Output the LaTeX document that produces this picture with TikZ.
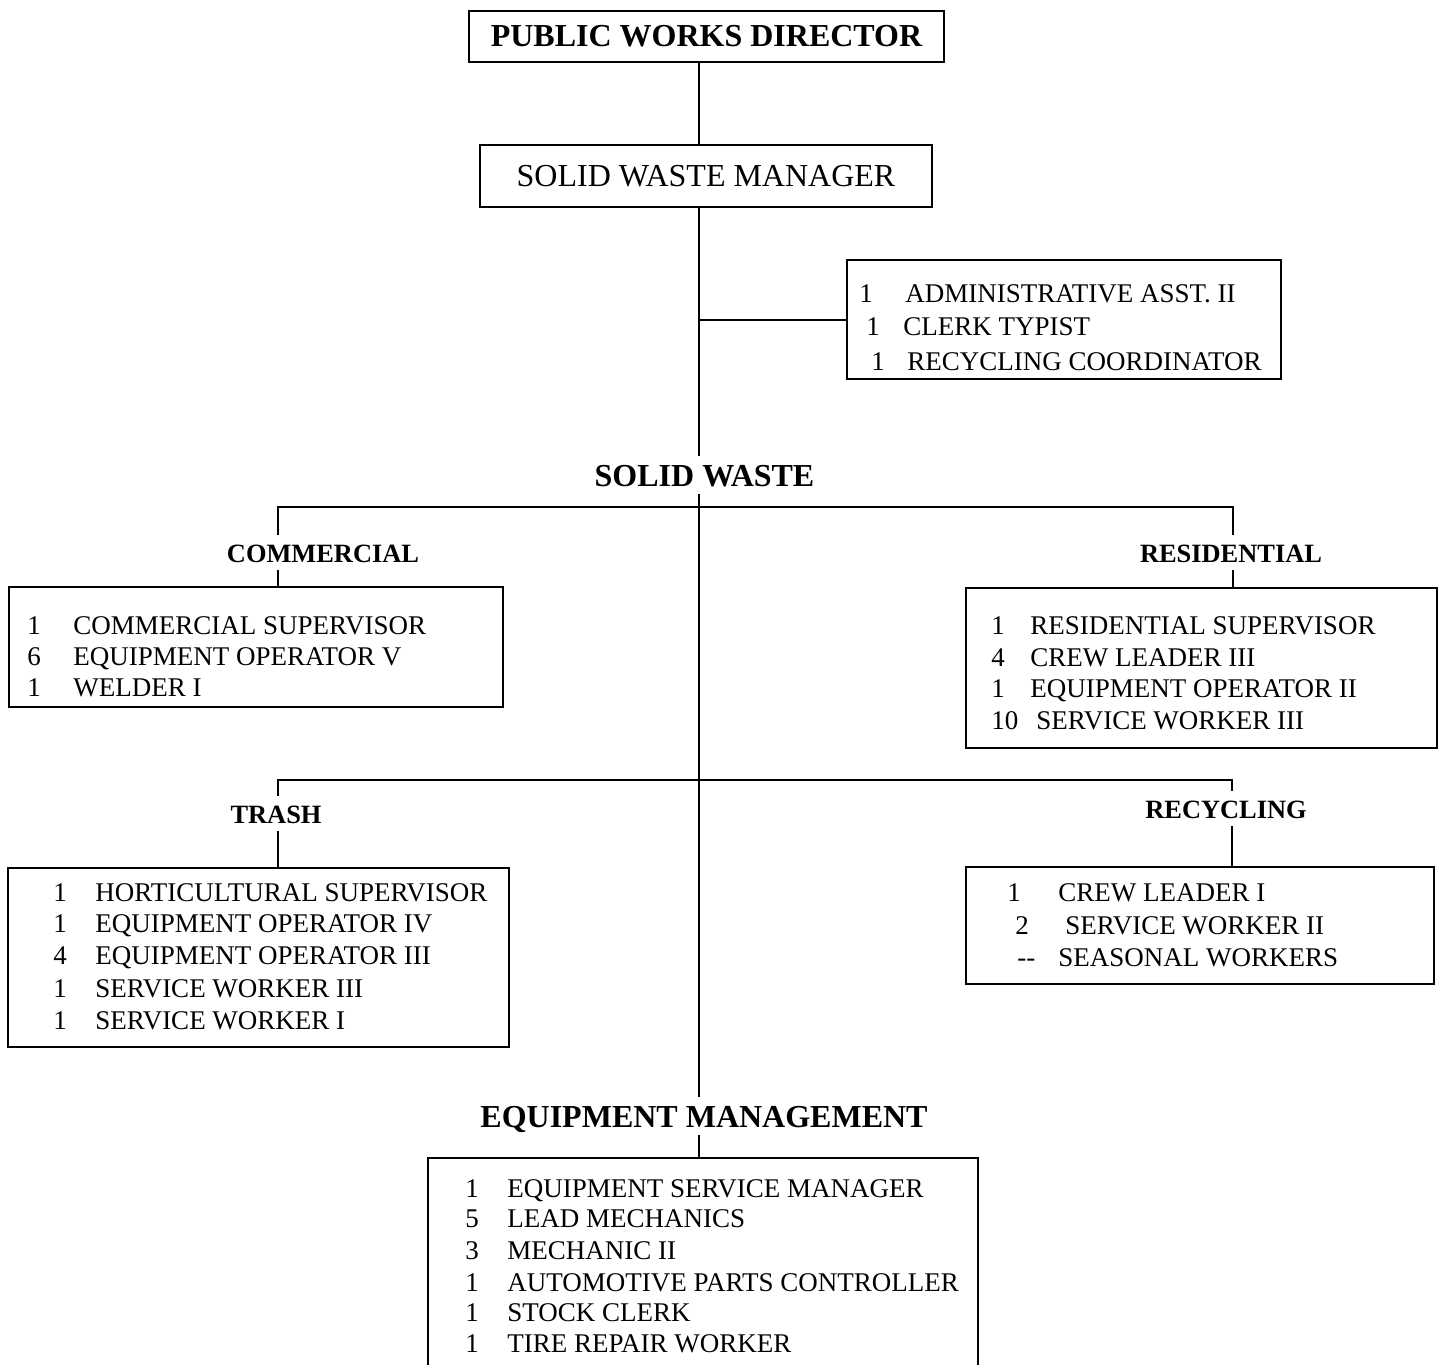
\documentclass[tikz,border=0pt]{standalone}
\usepackage{fontspec}
\setmainfont{Liberation Serif}

\tikzset{
  orgbox/.style={draw, line width=1pt, inner sep=0pt, outer sep=0pt},
  unitlabel/.style={font=\bfseries\fontsize{13.2}{16}\selectfont, anchor=base,
    inner xsep=2pt, inner ysep=4pt, text height=9.5pt, text depth=0pt},
  grouplabel/.style={font=\bfseries\fontsize{16}{19}\selectfont, anchor=base,
    inner xsep=2pt, inner ysep=4pt, text height=11pt, text depth=0pt},
  rowtext/.style={anchor=base west, inner sep=0pt, font=\fontsize{13.5}{16}\selectfont},
  link/.style={line width=1pt}
}

% one staff line: name, x of count, x of title, baseline, count, title
\newcommand{\staffrow}[6]{%
  \node[rowtext] (#1-n) at (#2,#4) {#5};
  \node[rowtext] (#1-t) at (#3,#4) {#6};}

\begin{document}
\begin{tikzpicture}[x=0.5pt, y=-0.5pt]
  \useasboundingbox (0,0) rectangle (1443,1364);
  \clip (0,0) rectangle (1443,1364);
  \coordinate (trunk) at (699,0);

  %% Head of the chart
  \node[orgbox, font=\bfseries\fontsize{16}{19}\selectfont,
    minimum width=237.5pt, minimum height=25.5pt] (pwd) at (706.5,36.5) {PUBLIC WORKS DIRECTOR};
  \node[orgbox, font=\fontsize{16}{19}\selectfont,
    minimum width=226pt, minimum height=31pt] (swm) at (706,176) {SOLID WASTE MANAGER};

  % Office staff
  \node[orgbox, minimum width=217pt, minimum height=59.5pt] (admin) at (1064,319.5) {};
  \staffrow{adm1}{859}{905}{302}{1}{ADMINISTRATIVE ASST. II}
  \staffrow{adm2}{866}{903}{335}{1}{CLERK TYPIST}
  \staffrow{adm3}{871}{907}{370}{1}{RECYCLING COORDINATOR}

  %% Division and unit labels
  \node[grouplabel] (sw) at (704.5,486) {SOLID WASTE};
  \node[unitlabel] (comm) at (323,562) {COMMERCIAL};
  \node[unitlabel] (res) at (1231,562) {RESIDENTIAL};
  \node[unitlabel] (trash) at (276,823) {TRASH};
  \node[unitlabel] (recy) at (1226,818) {RECYCLING};
  \node[grouplabel] (em) at (704,1127) {EQUIPMENT MANAGEMENT};

  %% Unit boxes
  % Commercial
  \node[orgbox, minimum width=247pt, minimum height=60pt] (commbox) at (256,647) {};
  \staffrow{com1}{27}{73}{634}{1}{COMMERCIAL SUPERVISOR}
  \staffrow{com2}{27}{73}{665}{6}{EQUIPMENT OPERATOR V}
  \staffrow{com3}{27}{73}{696}{1}{WELDER I}

  % Residential
  \node[orgbox, minimum width=235.5pt, minimum height=80pt] (resbox) at (1201.5,668) {};
  \staffrow{res1}{991}{1030}{634}{1}{RESIDENTIAL SUPERVISOR}
  \staffrow{res2}{991}{1030}{666}{4}{CREW LEADER III}
  \staffrow{res3}{991}{1030}{697}{1}{EQUIPMENT OPERATOR II}
  \staffrow{res4}{991}{1036}{729}{10}{SERVICE WORKER III}

  % Trash
  \node[orgbox, minimum width=250.5pt, minimum height=89.5pt] (trashbox) at (258.5,957.5) {};
  \staffrow{tr1}{53}{95}{901}{1}{HORTICULTURAL SUPERVISOR}
  \staffrow{tr2}{53}{95}{932}{1}{EQUIPMENT OPERATOR IV}
  \staffrow{tr3}{53}{95}{964}{4}{EQUIPMENT OPERATOR III}
  \staffrow{tr4}{53}{95}{997}{1}{SERVICE WORKER III}
  \staffrow{tr5}{53}{95}{1029}{1}{SERVICE WORKER I}

  % Recycling
  \node[orgbox, minimum width=234pt, minimum height=58.5pt] (recybox) at (1200,925.5) {};
  \staffrow{rc1}{1007}{1058}{901}{1}{CREW LEADER I}
  \staffrow{rc2}{1015}{1065}{934}{2}{SERVICE WORKER II}
  \staffrow{rc3}{1017}{1058}{966}{{-}{-}}{SEASONAL WORKERS}

  % Equipment management (runs off the page)
  \node[orgbox, minimum width=275pt, minimum height=107pt] (eqbox) at (703,1265) {};
  \staffrow{eq1}{465}{507}{1197}{1}{EQUIPMENT SERVICE MANAGER}
  \staffrow{eq2}{465}{507}{1227}{5}{LEAD MECHANICS}
  \staffrow{eq3}{465}{507}{1259}{3}{MECHANIC II}
  \staffrow{eq4}{465}{507}{1291}{1}{AUTOMOTIVE PARTS CONTROLLER}
  \staffrow{eq5}{465}{507}{1321}{1}{STOCK CLERK}
  \staffrow{eq6}{465}{507}{1352}{1}{TIRE REPAIR WORKER}

  %% Trunk line
  \draw[link] (pwd.south -| trunk) -- (swm.north -| trunk);
  \draw[link] (swm.south -| trunk) -- (sw.north -| trunk);
  \draw[link] (admin.west) -- (admin.west -| trunk);
  \draw[link] (sw.south -| trunk) -- (em.north -| trunk);
  \draw[link] (em.south -| trunk) -- (eqbox.north -| trunk);

  %% Upper branch
  \coordinate (commtap) at (278,507);
  \coordinate (restap) at (1233,507);
  \draw[link] (comm.north -| commtap) -- (commtap) -- (restap) -- (res.north -| restap);
  \draw[link] (comm.south -| commtap) -- (commbox.north -| commtap);
  \draw[link] (res.south -| restap) -- (resbox.north -| restap);

  %% Lower branch
  \coordinate (trashtap) at (278,780);
  \coordinate (recytap) at (1232,780);
  \draw[link] (trash.north -| trashtap) -- (trashtap) -- (recytap) -- (recy.north -| recytap);
  \draw[link] (trash.south -| trashtap) -- (trashbox.north -| trashtap);
  \draw[link] (recy.south -| recytap) -- (recybox.north -| recytap);
\end{tikzpicture}
\end{document}
